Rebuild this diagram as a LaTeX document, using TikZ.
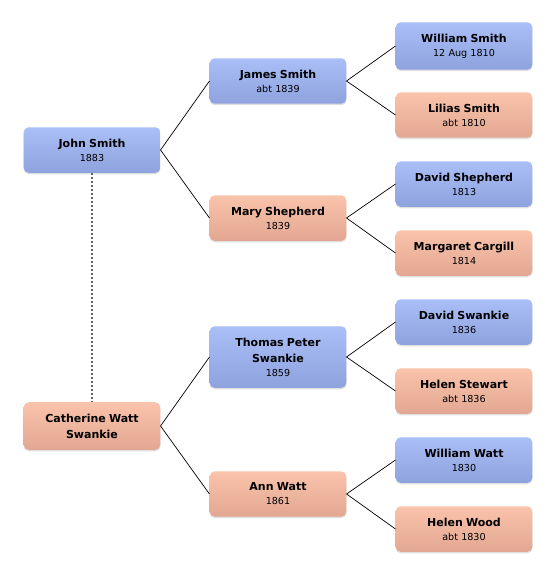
\documentclass[tikz,border=0pt]{standalone}
\usepackage{fontspec}
\setmainfont{DejaVu Sans}
\usetikzlibrary{shadows}
\definecolor{maletop}{HTML}{AABFF7}
\definecolor{malebot}{HTML}{8EA2DE}
\definecolor{femtop}{HTML}{FAC3AB}
\definecolor{fembot}{HTML}{E2A792}
\newcommand{\pname}[1]{\textbf{\fontsize{11}{14}\selectfont #1}}
\begin{document}
\begin{tikzpicture}[x=1pt,y=-1pt,
    person/.style={rounded corners=5pt, minimum width=136pt, minimum height=44pt,
        text width=130pt, align=center, inner ysep=11.5pt, font=\fontsize{9.6}{14}\selectfont,
        drop shadow={shadow xshift=0pt, shadow yshift=-1.5pt, opacity=0.25}},
    male/.style={person, top color=maletop, bottom color=malebot},
    female/.style={person, top color=femtop, bottom color=fembot},
    link/.style={black, line width=0.7pt}]
    \useasboundingbox (0,0) rectangle (556,576);

    % 本人与配偶
    \node[male] (john) at (92,150) {\pname{John Smith}\\1883};
    \node[female] (catherine) at (92,426) {\pname{Catherine Watt\\[2pt]Swankie}};

    % 父母
    \node[male] (james) at (278,81) {\pname{James Smith}\\abt 1839};
    \node[female] (mary) at (278,218) {\pname{Mary Shepherd}\\1839};
    \node[male] (thomas) at (278,357) {\pname{Thomas Peter\\[2pt]Swankie}\\1859};
    \node[female] (ann) at (278,494) {\pname{Ann Watt}\\1861};

    % 祖父母
    \node[male] (william) at (464,46) {\pname{William Smith}\\12 Aug 1810};
    \node[female] (lilias) at (464,115) {\pname{Lilias Smith}\\abt 1810};
    \node[male] (davidsh) at (464,184) {\pname{David Shepherd}\\1813};
    \node[female] (margaret) at (464,253) {\pname{Margaret Cargill}\\1814};
    \node[male] (davidsw) at (464,322) {\pname{David Swankie}\\1836};
    \node[female] (helens) at (464,391) {\pname{Helen Stewart}\\abt 1836};
    \node[male] (williamw) at (464,460) {\pname{William Watt}\\1830};
    \node[female] (helenw) at (464,529) {\pname{Helen Wood}\\abt 1830};

    % 连线
    \draw[link] (james.west) -- (john.east) -- (mary.west);
    \draw[link] (thomas.west) -- (catherine.east) -- (ann.west);
    \draw[link] (william.west) -- (james.east) -- (lilias.west);
    \draw[link] (davidsh.west) -- (mary.east) -- (margaret.west);
    \draw[link] (davidsw.west) -- (thomas.east) -- (helens.west);
    \draw[link] (williamw.west) -- (ann.east) -- (helenw.west);

    % 婚姻
    \draw[gray!80!black, line width=1.6pt, dash pattern=on 2pt off 2pt] (john.south) -- (catherine.north);
\end{tikzpicture}
\end{document}
